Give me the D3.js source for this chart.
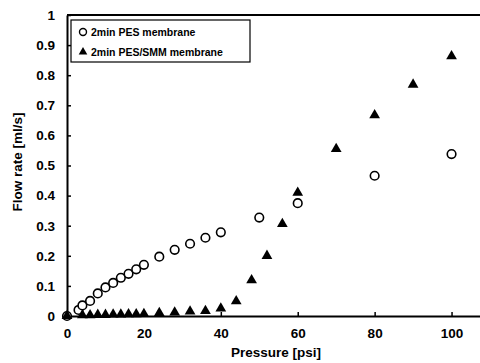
<!DOCTYPE html>
<html>
<head>
<meta charset="utf-8">
<script src="https://cdn.jsdelivr.net/npm/d3@7"></script>
<style>
  body { margin: 0; background: #fff; }
  svg { display: block; font-family: 'Liberation Sans', Arial, sans-serif; }
</style>
</head>
<body>
<div id="myPlot"></div>
<script>
// 2min PES membrane (open circles)
const pesPressure = [0, 3, 4, 6, 8, 10, 12, 14, 16, 18, 20, 24, 28, 32, 36, 40, 50, 60, 80, 100];
const pesFlow = [0, 0.02, 0.035, 0.05, 0.075, 0.095, 0.11, 0.127, 0.14, 0.155, 0.17, 0.197, 0.22, 0.24, 0.26, 0.278, 0.327, 0.375, 0.466, 0.538];

// 2min PES/SMM membrane (filled triangles)
const smmPressure = [0, 4, 6, 8, 10, 12, 14, 16, 18, 20, 24, 28, 32, 36, 40, 44, 48, 52, 56, 60, 70, 80, 90, 100];
const smmFlow = [0, 0.003, 0.003, 0.004, 0.004, 0.005, 0.005, 0.006, 0.006, 0.007, 0.01, 0.012, 0.015, 0.017, 0.025, 0.049, 0.119, 0.2, 0.306, 0.41, 0.555, 0.667, 0.769, 0.863];

const xTicks = [0, 20, 40, 60, 80, 100];
const yTicks = [0, 0.1, 0.2, 0.3, 0.4, 0.5, 0.6, 0.7, 0.8, 0.9, 1];
const legendLabels = ['2min PES membrane', '2min PES/SMM membrane'];

const width = 480, height = 363;
const margin = {top: 15, right: 0, bottom: 47, left: 67};
const plotW = 423, plotH = height - margin.top - margin.bottom;

const svg = d3.select('#myPlot')
  .append('svg')
    .attr('width', width)
    .attr('height', height);

const x = d3.scaleLinear().domain([0, 110]).range([0, plotW]);
const y = d3.scaleLinear().domain([0, 1]).range([plotH, 0]);

const g = svg.append('g')
  .attr('transform', 'translate(' + margin.left + ',' + margin.top + ')');

// top frame line
g.append('line')
  .attr('x1', 0).attr('x2', plotW)
  .attr('y1', 0).attr('y2', 0)
  .attr('stroke', '#000').attr('stroke-width', 2);

// X axis
const xAxis = g.append('g')
  .attr('transform', 'translate(0,' + plotH + ')')
  .call(d3.axisBottom(x).tickValues(xTicks).tickSizeInner(-4).tickSizeOuter(0).tickPadding(12));
xAxis.select('.domain').attr('stroke-width', 2);
xAxis.selectAll('line').attr('stroke-width', 1.5);
xAxis.selectAll('text')
  .attr('font-size', 13.5).attr('font-weight', 'bold')
  .attr('font-family', "'Liberation Sans', Arial, sans-serif");

// Y axis
const yAxis = g.append('g')
  .call(d3.axisLeft(y).tickValues(yTicks).tickFormat(d => d === 0 ? '0' : d === 1 ? '1' : d3.format('.1f')(d))
    .tickSizeInner(-4).tickSizeOuter(0).tickPadding(12));
yAxis.select('.domain').attr('stroke-width', 2);
yAxis.selectAll('line').attr('stroke-width', 1.5);
yAxis.selectAll('text')
  .attr('font-size', 13.5).attr('font-weight', 'bold')
  .attr('font-family', "'Liberation Sans', Arial, sans-serif");

// axis titles
svg.append('text')
  .attr('x', 276)
  .attr('y', 357)
  .attr('text-anchor', 'middle')
  .attr('font-size', 13.5).attr('font-weight', 'bold')
  .text('Pressure [psi]');

svg.append('text')
  .attr('transform', 'translate(22,162)rotate(-90)')
  .attr('text-anchor', 'middle')
  .attr('font-size', 13.5).attr('font-weight', 'bold')
  .text('Flow rate [ml/s]');

// PES circles
const pes = pesPressure.map((p, i) => ({p: p, f: pesFlow[i]}));
g.selectAll('circle.pes')
  .data(pes)
  .enter()
  .append('circle')
    .attr('class', 'pes')
    .attr('cx', d => x(d.p))
    .attr('cy', d => y(d.f))
    .attr('r', 4.3)
    .attr('fill', '#fff')
    .attr('stroke', '#000')
    .attr('stroke-width', 1.6);

// PES/SMM triangles
const tri = d3.symbol().type(d3.symbolTriangle).size(50);
const smm = smmPressure.map((p, i) => ({p: p, f: smmFlow[i]}));
g.selectAll('path.smm')
  .data(smm)
  .enter()
  .append('path')
    .attr('class', 'smm')
    .attr('d', tri)
    .attr('transform', d => 'translate(' + x(d.p) + ',' + y(d.f) + ')')
    .attr('fill', '#000');

// legend
const legend = svg.append('g').attr('transform', 'translate(71,20)');
legend.append('rect')
  .attr('width', 179).attr('height', 42)
  .attr('fill', '#fff').attr('stroke', '#000').attr('stroke-width', 1.2);
legend.append('circle')
  .attr('cx', 12).attr('cy', 12).attr('r', 3.5)
  .attr('fill', 'none').attr('stroke', '#000').attr('stroke-width', 1.4);
legend.append('path')
  .attr('d', d3.symbol().type(d3.symbolTriangle).size(32))
  .attr('transform', 'translate(12,32)')
  .attr('fill', '#000');
legend.selectAll('text.lbl')
  .data(legendLabels)
  .enter()
  .append('text')
    .attr('class', 'lbl')
    .attr('x', 20)
    .attr('y', (d, i) => 16 + i * 20)
    .attr('font-size', 10.5)
    .attr('font-weight', 'bold')
    .text(d => d);
</script>
</body>
</html>
